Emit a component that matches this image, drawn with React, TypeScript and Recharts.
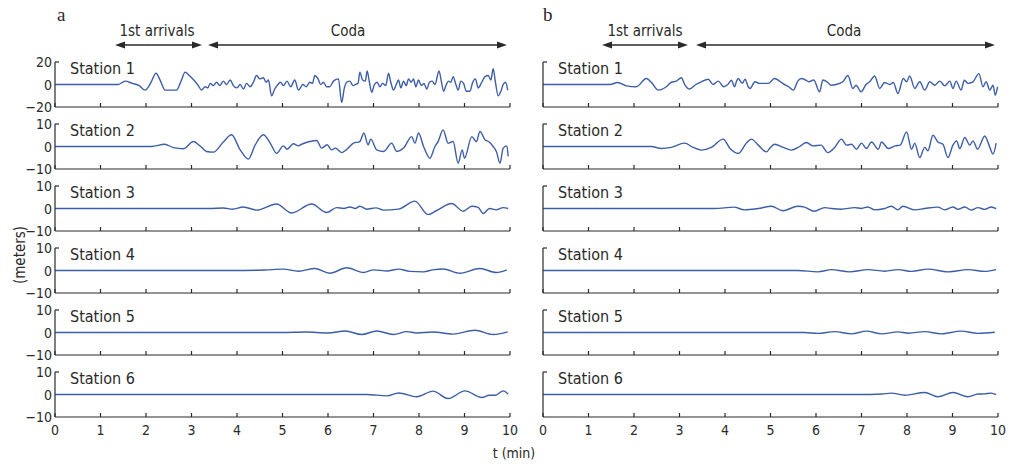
import { LineChart, Line, XAxis, YAxis } from "recharts";

type Pt = [number, number];

// time axis (min)
const T_TICKS = [0, 1, 2, 3, 4, 5, 6, 7, 8, 9, 10];
const STATIONS = ["Station 1", "Station 2", "Station 3", "Station 4", "Station 5", "Station 6"];
const RANGES = [20, 10, 10, 10, 10, 10];

// panel a: displacement traces [t, meters]
const A1: Pt[] = [[0,0],[1.39,0],[1.54,3],[1.7,1],[1.85,-1],[1.98,-5],[2.1,1],[2.22,10],[2.32,3],[2.42,-5],[2.67,-5],[2.78,4],[2.86,11],[2.95,8],[3.05,4],[3.15,-1],[3.22,-5],[3.3,-2],[3.36,-3],[3.41,1],[3.48,-1],[3.55,2],[3.62,-1],[3.7,3],[3.77,0],[3.85,4],[3.92,-1],[4.0,-3],[4.07,0],[4.14,-4],[4.21,1],[4.29,-2],[4.36,2],[4.43,8],[4.5,5],[4.58,6],[4.64,2],[4.69,4],[4.76,-10],[4.83,-4],[4.9,0],[4.95,2],[5.02,-1],[5.1,3],[5.18,-2],[5.27,4],[5.35,-5],[5.45,0],[5.52,-2],[5.6,2],[5.66,1],[5.71,8],[5.78,5],[5.84,0],[5.9,2],[5.97,-2],[6.04,-2],[6.12,3],[6.23,5],[6.3,-16],[6.36,-3],[6.41,2],[6.48,3],[6.55,-1],[6.6,0],[6.66,1],[6.7,11],[6.76,4],[6.82,3],[6.86,12],[6.91,2],[6.96,-7],[7.02,0],[7.08,2],[7.14,-2],[7.2,1],[7.27,-1],[7.33,10],[7.38,2],[7.44,-5],[7.5,0],[7.55,4],[7.6,-3],[7.66,3],[7.72,-1],[7.77,5],[7.83,2],[7.88,5],[7.93,-2],[7.99,4],[8.05,-1],[8.11,1],[8.17,-4],[8.23,2],[8.29,3],[8.35,0],[8.44,12],[8.49,3],[8.54,-6],[8.6,0],[8.65,3],[8.7,2],[8.75,7],[8.81,0],[8.86,-5],[8.92,3],[8.98,1],[9.04,-6],[9.12,-6],[9.18,2],[9.24,5],[9.3,-3],[9.38,2],[9.45,7],[9.52,8],[9.58,4],[9.63,14],[9.68,2],[9.74,-10],[9.8,-6],[9.85,0],[9.9,2],[9.95,-5]];
const A2: Pt[] = [[0,0],[2.12,0],[2.41,1],[2.6,-0.5],[2.82,-1],[3.04,2.2],[3.2,0],[3.33,-2.2],[3.48,-2.5],[3.7,2],[3.88,5.2],[4.07,-1.5],[4.25,-5.6],[4.4,0.7],[4.58,5.2],[4.73,1.5],[4.87,-3],[5.02,0.3],[5.1,-1.2],[5.24,1.2],[5.35,0.3],[5.42,1],[5.6,2.2],[5.75,2.7],[5.86,-0.7],[5.98,0.8],[6.08,-1.5],[6.16,-0.7],[6.3,-2.7],[6.4,-1.5],[6.56,1.5],[6.7,2.2],[6.79,6],[6.88,0.7],[6.94,3.3],[7.07,-1.5],[7.22,-2.2],[7.4,1.5],[7.51,-2.2],[7.66,-0.7],[7.84,4.4],[7.91,1.5],[7.99,6],[8.1,0],[8.24,-5.2],[8.35,0],[8.42,2.2],[8.53,7.4],[8.64,1.5],[8.75,2.2],[8.86,-7.4],[8.95,-1.5],[9.0,-5.2],[9.16,4.4],[9.26,2.2],[9.34,6.7],[9.45,3],[9.53,2.2],[9.63,0],[9.7,-2.2],[9.78,-7.4],[9.85,-0.7],[9.93,0.3],[9.96,-4.4]];
const A3: Pt[] = [[0,0],[3.4,0],[3.7,0.2],[3.9,-0.3],[4.14,0.7],[4.43,-0.7],[4.87,2],[5.2,-2],[5.64,2],[5.97,-1.8],[6.19,0.4],[6.35,0],[6.48,0.7],[6.6,0],[6.7,1],[6.85,-0.3],[7.05,0.3],[7.22,-0.7],[7.55,-0.3],[7.91,3.3],[8.2,-2.7],[8.38,-1],[8.72,2.2],[8.97,-1.2],[9.16,1],[9.3,0.5],[9.41,-2.2],[9.55,0],[9.7,-0.6],[9.85,0.4],[9.96,0]];
const A4: Pt[] = [[0,0],[3.9,0],[4.6,0.2],[5.02,0.6],[5.35,-0.3],[5.71,0.9],[6.04,-1.2],[6.41,1.2],[6.78,-0.9],[7.0,0.3],[7.3,-0.2],[7.55,0.6],[7.8,-0.4],[8.1,-0.6],[8.3,0.3],[8.53,0.7],[8.9,-1.2],[9.34,0.9],[9.7,-0.9],[9.93,0.3]];
const A5: Pt[] = [[0,0],[5.0,0],[5.5,0.2],[6.0,-0.2],[6.38,0.7],[6.74,-0.9],[7.07,0.7],[7.44,-0.9],[7.73,0.4],[7.95,-0.2],[8.3,0.2],[8.75,-0.7],[9.23,1],[9.63,-0.9],[9.95,0.3]];
const A6: Pt[] = [[0,0],[6.85,0],[7.3,-0.6],[7.55,0.7],[7.95,-1],[8.31,1.5],[8.64,-1.8],[9.01,1.6],[9.38,-1.3],[9.55,-0.3],[9.68,-0.3],[9.85,1.6],[9.96,0.2]];

// panel b
const B1: Pt[] = [[0,0],[1.47,0],[1.64,1.8],[1.83,-1.2],[2.05,-2],[2.27,5.3],[2.4,1],[2.53,-5],[2.71,-2],[2.82,2],[2.93,3],[3.04,6],[3.12,-0.5],[3.22,-4],[3.36,0],[3.48,2.4],[3.63,4.7],[3.74,0],[3.85,3],[3.97,-2],[4.06,0],[4.14,3.8],[4.21,-2],[4.25,2.4],[4.29,5.3],[4.38,1],[4.44,4.7],[4.51,-2],[4.55,-3.5],[4.66,2.4],[4.76,1],[4.95,1],[5.09,5.3],[5.22,2.4],[5.33,-0.6],[5.4,-2],[5.5,-5],[5.6,3],[5.68,5.3],[5.77,4],[5.84,2.4],[5.95,4],[6.08,-6.5],[6.15,4],[6.26,1.8],[6.33,-0.6],[6.44,0],[6.59,2.4],[6.7,8],[6.81,-3.5],[6.88,-0.6],[6.99,-6.5],[7.1,0],[7.18,2.4],[7.29,7.6],[7.4,-3.5],[7.51,1.8],[7.62,0],[7.7,1.8],[7.8,-8],[7.92,5.3],[7.99,2.4],[8.06,7.6],[8.17,-3.5],[8.28,2.4],[8.39,-5],[8.5,2.4],[8.61,-0.6],[8.72,3],[8.83,-1.2],[8.94,3],[9.01,-3.5],[9.08,3],[9.19,-5],[9.26,3.8],[9.34,1],[9.45,2.4],[9.58,9.7],[9.67,-2],[9.74,2.4],[9.82,-5],[9.89,-0.6],[9.94,-9.4],[9.99,-2]];
const B2: Pt[] = [[0,0],[2.38,0],[2.6,-0.9],[2.82,-0.4],[3.11,1.5],[3.3,-0.4],[3.48,-1.6],[3.7,-0.4],[3.96,3.3],[4.11,-0.9],[4.29,-3.1],[4.47,1.5],[4.58,3.3],[4.73,0.6],[4.91,-2.4],[5.0,-0.4],[5.09,1],[5.28,-0.4],[5.46,-1.6],[5.64,0],[5.79,1.8],[5.93,0.3],[6.11,0.6],[6.26,-2.7],[6.41,-0.4],[6.56,3.3],[6.67,0.6],[6.78,1],[6.89,-1.2],[7.0,1.5],[7.11,-0.9],[7.22,2],[7.37,-1.2],[7.44,2],[7.59,-0.9],[7.74,0.3],[7.85,0.6],[7.99,6.5],[8.1,-1.2],[8.17,1.5],[8.28,-4.9],[8.39,-0.4],[8.46,-1.9],[8.57,5],[8.68,2],[8.79,1],[8.9,-4.9],[9.01,0.6],[9.09,2.5],[9.16,-0.9],[9.27,4],[9.38,0.6],[9.45,2.5],[9.55,-1.2],[9.71,4.7],[9.82,-0.4],[9.89,-3.4],[9.96,1.5]];
const B3: Pt[] = [[0,0],[3.77,0],[4.2,0.6],[4.42,-0.6],[4.73,0],[5.02,1],[5.27,-1],[5.6,1],[5.75,0.6],[5.96,-1.2],[6.19,0.4],[6.34,0],[6.56,-0.3],[6.85,0.4],[7.0,0],[7.14,0.7],[7.29,-0.6],[7.51,0],[7.66,1],[7.8,-0.6],[7.91,1],[8.17,-0.6],[8.39,0],[8.68,0.6],[8.83,-0.6],[9.01,0.7],[9.12,-0.4],[9.27,0.7],[9.41,-0.7],[9.56,0.4],[9.71,-0.4],[9.85,0.7],[9.96,-0.1]];
const B4: Pt[] = [[0,0],[5.6,0],[6.04,-0.6],[6.34,0.4],[6.74,-0.6],[7.14,0.4],[7.51,-0.3],[7.8,0.4],[8.1,-0.4],[8.46,0.6],[8.9,-0.6],[9.34,0.4],[9.71,-0.4],[9.96,0.4]];
const B5: Pt[] = [[0,0],[5.74,0],[6.04,-0.4],[6.41,0.4],[6.78,-0.6],[7.11,0.6],[7.44,-0.6],[7.8,0.3],[8.03,-0.3],[8.39,0.4],[8.75,-0.6],[9.19,0.6],[9.56,-0.4],[9.93,0.1]];
const B6: Pt[] = [[0,0],[7.2,0],[7.45,0.2],[7.66,0.6],[7.95,-0.3],[8.39,0.9],[8.68,-1],[9.01,0.9],[9.34,-1],[9.56,0.2],[9.71,0.3],[9.85,0.6],[9.96,-0.1]];

const PANEL_A = [A1, A2, A3, A4, A5, A6];
const PANEL_B = [B1, B2, B3, B4, B5, B6];

const BLUE = "#3d5ea7";
const INK = "#2a2a2a";
const FONT = "'DejaVu Sans Condensed', 'DejaVu Sans', sans-serif";

const PLOT_TOP = 62; // top of first row plot
const ROW_PITCH = 62;
const PLOT_H = 45;
const PAD_TOP = 8;
const CHART_W = 520;
const Y_W = 55;
const X_H = 1;

const fmt = (v: number) => (v < 0 ? `\u2212${-v}` : `${v}`);

const Trace = ({ pts, row, left, showY }: { pts: Pt[]; row: number; left: number; showY: boolean }) => {
  const data = pts.map(([t, v]) => ({ t, v }));
  const range = RANGES[row];
  const last = row === STATIONS.length - 1;
  const bottom = last ? 30 : 9;
  const top = PLOT_TOP + ROW_PITCH * row - PAD_TOP;

  return (
    <div style={{ position: "absolute", left, top }}>
      <LineChart
        width={CHART_W}
        height={PAD_TOP + PLOT_H + X_H + bottom}
        data={data}
        margin={{ top: PAD_TOP, right: 10, bottom, left: 0 }}
      >
        <XAxis
          type="number"
          dataKey="t"
          domain={[0, 10]}
          ticks={T_TICKS}
          interval={0}
          height={X_H}
          tickSize={0}
          tickMargin={0}
          tickLine={false}
          axisLine={{ stroke: INK, strokeWidth: 1.2 }}
          tick={(p: any) => (
            <g>
              <line x1={p.x} y1={p.y} x2={p.x} y2={p.y - 4} stroke={INK} strokeWidth={1.2} />
              {last && (
                <text x={p.x} y={p.y + 18} textAnchor="middle" fontSize={14} fontFamily={FONT} fill={INK}>
                  {p.payload.value}
                </text>
              )}
            </g>
          )}
        />
        <YAxis
          type="number"
          domain={[-range, range]}
          ticks={[-range, 0, range]}
          interval={0}
          width={Y_W}
          tickSize={0}
          tickMargin={0}
          tickLine={false}
          allowDataOverflow
          axisLine={{ stroke: INK, strokeWidth: 1.2 }}
          tick={(p: any) => (
            <g>
              {p.payload.value === range && (
                <line x1={p.x} y1={p.y} x2={p.x + 4} y2={p.y} stroke={INK} strokeWidth={1.2} />
              )}
              {showY && (
                <text x={p.x - 3} y={p.y} dy="0.36em" textAnchor="end" fontSize={14} fontFamily={FONT} fill={INK}>
                  {fmt(p.payload.value)}
                </text>
              )}
            </g>
          )}
        />
        <Line
          type="monotone"
          dataKey="v"
          stroke={BLUE}
          strokeWidth={1.4}
          dot={false}
          activeDot={false}
          isAnimationActive={false}
        />
      </LineChart>
      <div
        style={{
          position: "absolute",
          left: Y_W + 15,
          top: PAD_TOP + PLOT_H / 2 - 16 - 9,
          fontFamily: FONT,
          fontSize: 16,
          lineHeight: "18px",
          color: INK,
          whiteSpace: "nowrap",
        }}
      >
        {STATIONS[row]}
      </div>
    </div>
  );
};

const Arrow = ({ x1, x2, y }: { x1: number; x2: number; y: number }) => (
  <g>
    <line x1={x1 + 8} y1={y} x2={x2 - 8} y2={y} stroke={INK} strokeWidth={1.3} />
    <polygon points={`${x1},${y} ${x1 + 10},${y - 3.5} ${x1 + 10},${y + 3.5}`} fill={INK} />
    <polygon points={`${x2},${y} ${x2 - 10},${y - 3.5} ${x2 - 10},${y + 3.5}`} fill={INK} />
  </g>
);

const PANELS = [
  { key: "a", left: 0, series: PANEL_A, showY: true },
  { key: "b", left: 488, series: PANEL_B, showY: false },
];

export default function App() {
  return (
    <div style={{ position: "absolute", left: 0, top: 0, width: 1021, height: 467, background: "#fff" }}>
      {PANELS.map((panel) =>
        panel.series.map((pts, row) => (
          <Trace key={`${panel.key}${row}`} pts={pts} row={row} left={panel.left} showY={panel.showY} />
        ))
      )}
      <svg width={1021} height={467} style={{ position: "absolute", left: 0, top: 0, pointerEvents: "none" }}>
        <text x={57} y={21} fontFamily="'Liberation Serif', serif" fontSize={19} fill={INK}>a</text>
        <text x={543} y={21} fontFamily="'Liberation Serif', serif" fontSize={19} fill={INK}>b</text>

        <text x={157} y={36} textAnchor="middle" fontFamily={FONT} fontSize={15} fill={INK}>1st arrivals</text>
        <text x={348} y={36} textAnchor="middle" fontFamily={FONT} fontSize={15} fill={INK}>Coda</text>
        <Arrow x1={115} x2={202} y={45} />
        <Arrow x1={208} x2={507} y={45} />

        <text x={645} y={36} textAnchor="middle" fontFamily={FONT} fontSize={15} fill={INK}>1st arrivals</text>
        <text x={844} y={36} textAnchor="middle" fontFamily={FONT} fontSize={15} fill={INK}>Coda</text>
        <Arrow x1={602} x2={688} y={45} />
        <Arrow x1={696} x2={995} y={45} />

        <text
          x={20}
          y={255}
          transform="rotate(-90 20 255)"
          textAnchor="middle"
          dy="0.35em"
          fontFamily={FONT}
          fontSize={15}
          fill={INK}
        >
          (meters)
        </text>
        <text x={514} y={458} textAnchor="middle" fontFamily={FONT} fontSize={14} fill={INK}>t (min)</text>
      </svg>
    </div>
  );
}
